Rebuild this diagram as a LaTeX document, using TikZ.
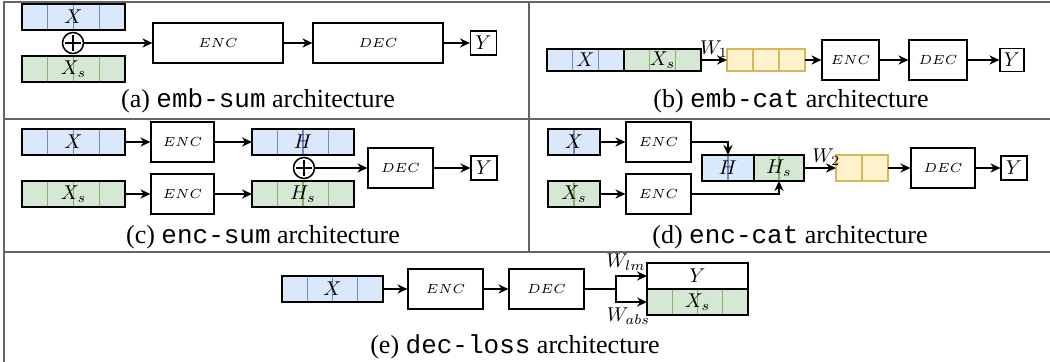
\RequirePackage{fix-cm}
\documentclass[tikz,border=0pt]{standalone}
\usepackage{fontspec}
\setmainfont{Liberation Serif}
\setmonofont{Liberation Mono}
\usetikzlibrary{
    arrows.meta,
    positioning,
    calc
}
\definecolor{blueF}{HTML}{DAE8FC}
\definecolor{blueL}{HTML}{6C8EBF}
\definecolor{greenF}{HTML}{D5E8D4}
\definecolor{greenL}{HTML}{82B366}
\definecolor{yellowF}{HTML}{FFF2CC}
\definecolor{yellowL}{HTML}{D6B656}

\begin{document}
\begin{tikzpicture}[
        x=0.5pt, y=-0.5pt,
        block/.style={draw, line width=0.6pt, inner sep=0pt, minimum height=20pt, font=\fontsize{6.6}{8}\selectfont},
        seq/.style={draw, line width=0.6pt, inner sep=0pt, outer sep=0pt, minimum height=13pt, font=\fontsize{10}{12}\selectfont},
        cells/.style 2 args={path picture={
            \pgfmathtruncatemacro{\lastk}{#1-1}
            \foreach \k in {1,...,\lastk}
                \draw[#2, line width=0.6pt] ($(path picture bounding box.north west)!\k/#1!(path picture bounding box.north east)$) -- ($(path picture bounding box.south west)!\k/#1!(path picture bounding box.south east)$);
        }},
        xseq/.style={seq, fill=blueF, cells={#1}{blueL}},
        sseq/.style={seq, fill=greenF, cells={#1}{greenL}},
        wseq/.style={seq, draw=yellowL, fill=yellowF, cells={#1}{yellowL}},
        outbox/.style={draw, line width=0.6pt, inner sep=0pt, minimum width=13pt, minimum height=12pt, font=\fontsize{10}{12}\selectfont},
        plus/.style={circle, draw, line width=0.75pt, minimum size=10.5pt, inner sep=0pt, path picture={
            \draw[line width=0.75pt] ($(path picture bounding box.center)+(-3.8pt,0)$) -- ($(path picture bounding box.center)+(3.8pt,0)$);
            \draw[line width=0.75pt] ($(path picture bounding box.center)+(0,-3.8pt)$) -- ($(path picture bounding box.center)+(0,3.8pt)$);
        }},
        arrow/.style={-{Stealth[length=5pt,width=4.6pt]}, line width=0.75pt},
        wlabel/.style={font=\fontsize{10}{11}\selectfont, inner sep=0.8pt},
        subcap/.style={font=\fontsize{13}{15}\selectfont, inner sep=0pt},
        rule/.style={draw=gray!80!black, line width=0.7pt}
    ]
        \useasboundingbox (0,0) rectangle (1050,362);

        % Frame
        \draw[rule] (4,362) -- (4,2) -- (1050,2);
        \draw[rule] (529,2) -- (529,252);
        \draw[rule] (4,119) -- (1050,119);
        \draw[rule] (4,252) -- (1050,252);

        % (a) emb-sum
        \node[xseq=4, minimum width=51.5pt] (xA) at (73.5,17) {$X$};
        \node[sseq=4, minimum width=51.5pt] (xsA) at (73.5,69) {$X_s$};
        \node[plus] (plusA) at (73,43) {};
        \node[block, minimum width=65pt] (encA) at (218,43) {$ENC$};
        \node[block, minimum width=65pt] (decA) at (378,43) {$DEC$};
        \node[outbox] (yA) at (483.5,43) {$Y$};
        \draw[arrow] (plusA) -- (encA);
        \draw[arrow] (encA) -- (decA);
        \draw[arrow] (decA) -- (yA);
        \node[subcap] (capA) at (258,101) {(a) \texttt{emb-sum} architecture};

        % (b) emb-cat
        \node[xseq=3, minimum width=38.5pt, minimum height=11pt] (xB) at (585.5,60) {$X$};
        \node[sseq=3, minimum width=38.5pt, minimum height=11pt, right=0pt of xB] (xsB) {$X_s$};
        \node[wseq=3, minimum width=39pt, minimum height=11pt] (wB) at (766,60) {};
        \node[block, minimum width=28.5pt] (encB) at (850.5,60) {$ENC$};
        \node[block, minimum width=29pt] (decB) at (938,60) {$DEC$};
        \node[outbox, minimum width=12pt, minimum height=11.5pt] (yB) at (1012,60) {$Y$};
        \draw[arrow] (xsB) -- (wB) node[wlabel, midway, above] (w1) {$W_1$};
        \draw[arrow] (wB) -- (encB);
        \draw[arrow] (encB) -- (decB);
        \draw[arrow] (decB) -- (yB);
        \node[subcap] (capB) at (791,101) {(b) \texttt{emb-cat} architecture};

        % (c) enc-sum
        \node[xseq=4, minimum width=51.5pt] (xC) at (73.5,142) {$X$};
        \node[sseq=4, minimum width=51.5pt] (xsC) at (73.5,194) {$X_s$};
        \node[block, minimum width=31.5pt] (encC1) at (182.5,142) {$ENC$};
        \node[block, minimum width=31.5pt] (encC2) at (182.5,194) {$ENC$};
        \node[xseq=4, minimum width=51pt] (hC) at (303,142) {$H$};
        \node[sseq=4, minimum width=51pt] (hsC) at (303,194) {$H_s$};
        \node[plus] (plusC) at (304,168) {};
        \node[block, minimum width=32.5pt] (decC) at (400.5,168) {$DEC$};
        \node[outbox] (yC) at (484,168) {$Y$};
        \draw[arrow] (xC) -- (encC1);
        \draw[arrow] (encC1) -- (hC);
        \draw[arrow] (xsC) -- (encC2);
        \draw[arrow] (encC2) -- (hsC);
        \draw[arrow] (plusC) -- (decC);
        \draw[arrow] (decC) -- (yC);
        \node[subcap] (capC) at (263,237) {(c) \texttt{enc-sum} architecture};

        % (d) enc-cat
        \node[xseq=2, minimum width=26pt] (xD) at (574,142) {$X$};
        \node[sseq=2, minimum width=26pt] (xsD) at (574,194) {$X_s$};
        \node[block, minimum width=32.5pt] (encD1) at (658.5,142) {$ENC$};
        \node[block, minimum width=32.5pt] (encD2) at (658.5,194) {$ENC$};
        \node[xseq=2, minimum width=26pt] (hD) at (728,168) {$H$};
        \node[sseq=2, minimum width=25pt, right=0pt of hD] (hsD) {$H_s$};
        \node[wseq=2, minimum width=26pt] (wD) at (862,168) {};
        \node[block, minimum width=32pt] (decD) at (943,168) {$DEC$};
        \node[outbox] (yD) at (1014,168) {$Y$};
        \draw[arrow] (xD) -- (encD1);
        \draw[arrow] (xsD) -- (encD2);
        \draw[arrow] (encD1) -| (hD);
        \draw[arrow] (encD2) -| (hsD);
        \draw[arrow] (hsD) -- (wD) node[wlabel, pos=0.7, above] (w2) {$W_2$};
        \draw[arrow] (wD) -- (decD);
        \draw[arrow] (decD) -- (yD);
        \node[subcap] (capD) at (790,237) {(d) \texttt{enc-cat} architecture};

        % (e) dec-loss
        \node[xseq=4, minimum width=50.5pt] (xE) at (332.5,289) {$X$};
        \node[block, minimum width=37.5pt] (encE) at (445.5,289) {$ENC$};
        \node[block, minimum width=37.5pt] (decE) at (546.5,289) {$DEC$};
        \node[seq, minimum width=50.5pt] (yE) at (697.5,276) {$Y$};
        \node[sseq=4, minimum width=50.5pt, below=0pt of yE] (xsE) {$X_s$};
        \coordinate (splitE) at (616,289);
        \draw[arrow] (xE) -- (encE);
        \draw[arrow] (encE) -- (decE);
        \draw[line width=0.75pt] (decE) -- (splitE);
        \draw[arrow] (splitE) |- (yE) node[wlabel, pos=0.66, above, inner sep=2.5pt] (wlm) {$W_{lm}$};
        \draw[arrow] (splitE) |- (xsE) node[wlabel, pos=0.7, below, inner sep=2.5pt] (wabs) {$W_{abs}$};
        \node[subcap] (capE) at (515,347) {(e) \texttt{dec-loss} architecture};
    \end{tikzpicture}
\end{document}
